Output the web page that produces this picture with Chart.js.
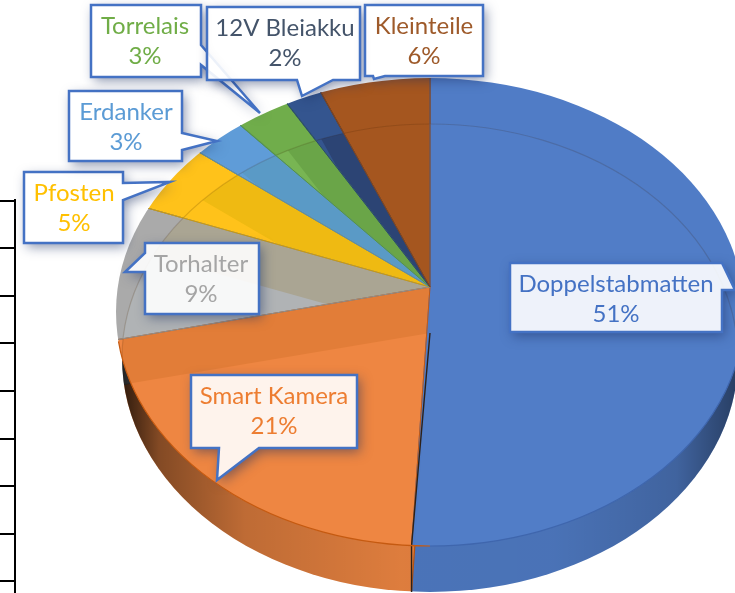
<!DOCTYPE html>
<html>
<head>
<meta charset="utf-8">
<style>
  html, body { margin: 0; padding: 0; background: #fff; overflow: hidden; }
  canvas { display: block; }
</style>
<script src="https://cdn.jsdelivr.net/npm/chart.js@4/dist/chart.umd.min.js"></script>
</head>
<body>
<canvas id="pieChart" width="735" height="593"></canvas>
<script>
const categories = ['Doppelstabmatten', 'Smart Kamera', 'Torhalter', 'Pfosten', 'Erdanker', 'Torrelais', '12V Bleiakku', 'Kleinteile'];
const shares = [51, 21, 9, 5, 3, 3, 2, 6];
const sliceColors = ['#507cc6', '#ee8642', '#aaaaaa', '#ffc21a', '#5f9cd8', '#70ad4b', '#34558f', '#a5561f'];
const bandColors = ['#4f7bc5', '#e27d38', '#aaa593', '#efba12', '#5a9ac6', '#6aa548', '#2c4474', '#a25622'];
const overlapColors = ['#517dc7', '#ee8642', '#b0b3b5', '#ffc21a', '#5f9fd8', '#78b553', '#34558f', '#a5561f'];
const edgeColors = ['#4472c4', '#c55a11', '#8f8f8f', '#c99a10', '#4a8bc4', '#5d9638', '#264478', '#8a4616'];
const textColors = ['#4472c4', '#ed7d31', '#a5a5a5', '#ffc000', '#5b9bd5', '#70ad47', '#44546a', '#9e5a2a'];

// callout outlines and text centres, same order as categories
const calloutShapes = [
  [[510, 263], [722, 263], [735, 290], [722, 290], [722, 332], [510, 332]],
  [[191, 375], [357, 375], [357, 448], [259, 448], [217, 480], [219, 448], [191, 448]],
  [[145, 243], [259, 243], [259, 314], [145, 314], [145, 272], [125, 272], [145, 253]],
  [[24, 172], [123, 172], [123, 183], [170, 182], [123, 200], [123, 243], [24, 243]],
  [[69, 91], [182, 91], [182, 133], [217, 141], [182, 150], [182, 161], [69, 161]],
  [[91, 5], [201, 5], [201, 45], [260, 113], [201, 65], [201, 77], [91, 77]],
  [[207, 7], [360, 7], [360, 80], [333, 80], [302, 96], [297, 80], [207, 80]],
  [[365, 5], [483, 5], [483, 76], [385, 76], [374, 79], [373, 76], [365, 76]]
];
const calloutTextX = [616, 274, 201, 74, 126, 145, 285, 424];

const DEPTH = 46;
const face = { cy: 312, rx: 314, ry: 234 };
const wall = { cy: 312 + DEPTH, rx: 308, ry: 234 };
// spread of the pie around its apex, upper and lower half differ
const spread = { x: 340, up: 240, down: 300 };

function ellipsePath(ctx, cx, shape) {
  ctx.ellipse(cx, shape.cy, shape.rx, shape.ry, 0, 0, Math.PI * 2);
}

function drawPie(ctx, chart, arcs, shape, shift) {
  const cx = arcs[0].x, cy = arcs[0].y, R = arcs[0].outerRadius;
  ctx.save();
  ctx.beginPath();
  ellipsePath(ctx, cx, shape);
  ctx.clip();
  [[spread.up, 0, cy + shift], [spread.down, cy + shift, chart.height + 100]].forEach(([sy, y0, y1]) => {
    ctx.save();
    ctx.beginPath();
    ctx.rect(0, y0, chart.width, y1 - y0);
    ctx.clip();
    ctx.translate(cx, cy + shift);
    ctx.scale(spread.x / R, sy / R);
    ctx.translate(-cx, -cy);
    arcs.forEach(a => a.draw(ctx));
    ctx.restore();
  });
  ctx.restore();
}

function sectorPath(ctx, arc, shift) {
  const apexY = arc.y + shift;
  ctx.beginPath();
  ctx.moveTo(arc.x, apexY);
  const steps = Math.ceil((arc.endAngle - arc.startAngle) / 0.02);
  for (let i = 0; i <= steps; i++) {
    const a = arc.startAngle + (arc.endAngle - arc.startAngle) * i / steps;
    const s = Math.sin(a);
    ctx.lineTo(arc.x + Math.cos(a) * spread.x, apexY + s * (s < 0 ? spread.up : spread.down));
  }
  ctx.closePath();
}

// facets on the top face where the lower copy of the pie shines through
function drawFacets(ctx, arcs) {
  const cx = arcs[0].x;
  arcs.forEach((arc, i) => {
    ctx.save();
    ctx.beginPath();
    ellipsePath(ctx, cx, face);
    ctx.clip();
    sectorPath(ctx, arc, 0);
    ctx.clip();
    ctx.save();
    ctx.beginPath();
    ellipsePath(ctx, cx, wall);
    ctx.clip();
    ctx.fillStyle = bandColors[i];
    ctx.fillRect(0, 0, 735, 593);
    sectorPath(ctx, arc, DEPTH);
    ctx.clip();
    ctx.fillStyle = overlapColors[i];
    ctx.fillRect(0, 0, 735, 593);
    ctx.restore();
    ctx.restore();
  });

  // faint arc of the lower copy on the top face
  ctx.save();
  ctx.beginPath();
  ellipsePath(ctx, cx, face);
  ctx.clip();
  ctx.strokeStyle = 'rgba(60,30,0,0.16)';
  ctx.lineWidth = 1.2;
  ctx.beginPath();
  ctx.ellipse(cx, wall.cy, wall.rx, wall.ry, 0, Math.PI, Math.PI * 2);
  ctx.stroke();
  ctx.restore();

  arcs.forEach((arc, i) => {
    ctx.save();
    ctx.beginPath();
    ellipsePath(ctx, cx, face);
    ctx.clip();
    sectorPath(ctx, arc, 0);
    ctx.strokeStyle = edgeColors[i];
    ctx.lineWidth = 1;
    ctx.stroke();
    ctx.restore();
  });
}

function shadeWall(ctx, chart, cx) {
  ctx.save();
  ctx.beginPath();
  ctx.rect(0, 0, chart.width, chart.height);
  ellipsePath(ctx, cx, face);
  ctx.clip('evenodd');
  ctx.beginPath();
  ellipsePath(ctx, cx, wall);
  ctx.clip();
  const g = ctx.createLinearGradient(cx - wall.rx, 0, cx + wall.rx, 0);
  g.addColorStop(0, 'rgba(0,0,0,0.8)');
  g.addColorStop(0.06, 'rgba(0,0,0,0.45)');
  g.addColorStop(0.2, 'rgba(0,0,0,0.2)');
  g.addColorStop(0.45, 'rgba(0,0,0,0.07)');
  g.addColorStop(0.7, 'rgba(0,0,0,0.08)');
  g.addColorStop(0.9, 'rgba(0,0,0,0.2)');
  g.addColorStop(1, 'rgba(0,0,0,0.5)');
  ctx.fillStyle = g;
  ctx.fillRect(0, 0, chart.width, chart.height);
  ctx.restore();
}

function drawSeam(ctx, arcs) {
  const a = arcs[0], cx = a.x, cy = a.y;
  const k = Math.cos(a.endAngle) / Math.sin(a.endAngle);
  const edgeY = face.cy + face.ry;
  const edgeX = cx + (edgeY - cy) * (spread.x / spread.down) * k;
  ctx.save();
  ctx.strokeStyle = '#2e2118';
  ctx.lineWidth = 1.4;
  ctx.beginPath();
  ctx.moveTo(cx, cy + DEPTH);
  ctx.lineTo(edgeX, edgeY);
  ctx.lineTo(edgeX, edgeY + DEPTH);
  ctx.stroke();
  ctx.restore();
}

function drawRim(ctx, cx) {
  // lower rim of the top face
  ctx.save();
  ctx.lineWidth = 1.2;
  [['#c55a11', Math.PI / 2, Math.PI * 0.96], ['#3f66ad', Math.PI * 0.03, Math.PI / 2]].forEach(([c, s, e]) => {
    ctx.strokeStyle = c;
    ctx.beginPath();
    ctx.ellipse(cx, face.cy, face.rx, face.ry, 0, s, e);
    ctx.stroke();
  });
  ctx.restore();
}

function drawCallout(ctx, pts, label, share, color, textX) {
  const trace = () => {
    pts.forEach(([x, y], i) => (i ? ctx.lineTo(x, y) : ctx.moveTo(x, y)));
    ctx.closePath();
  };
  // shadow only outside the box, the fill is see-through
  ctx.save();
  ctx.beginPath();
  ctx.rect(0, 0, 735, 593);
  trace();
  ctx.clip('evenodd');
  ctx.shadowColor = 'rgba(25,45,95,0.5)';
  ctx.shadowBlur = 12;
  ctx.shadowOffsetX = 3;
  ctx.shadowOffsetY = 4;
  ctx.fillStyle = '#fff';
  ctx.beginPath();
  trace();
  ctx.fill();
  ctx.restore();

  ctx.save();
  ctx.fillStyle = 'rgba(255,255,255,0.9)';
  ctx.beginPath();
  trace();
  ctx.fill();
  ctx.strokeStyle = '#4472c4';
  ctx.lineWidth = 2.5;
  ctx.stroke();

  const top = pts[0][1];
  ctx.fillStyle = color;
  ctx.font = '24px Lato';
  ctx.textAlign = 'center';
  ctx.textBaseline = 'middle';
  ctx.fillText(label, textX, top + 21);
  ctx.fillText(share + '%', textX, top + 51);
  ctx.restore();
}

const pie3d = {
  id: 'pie3d',
  beforeDatasetsDraw(chart) {
    const ctx = chart.ctx;
    const arcs = chart.getDatasetMeta(0).data;
    const cx = arcs[0].x;
    drawPie(ctx, chart, arcs, wall, DEPTH);
    shadeWall(ctx, chart, cx);
    drawPie(ctx, chart, arcs, face, 0);
    drawFacets(ctx, arcs);
    drawSeam(ctx, arcs);
    drawRim(ctx, cx);
    return false;
  },
  afterDraw(chart) {
    const ctx = chart.ctx;
    // table edge left of the chart
    ctx.save();
    ctx.strokeStyle = '#000';
    ctx.lineWidth = 2;
    ctx.beginPath();
    for (let i = 0; i < 9; i++) {
      const y = Math.round(200.5 + i * 47.6);
      ctx.moveTo(0, y);
      ctx.lineTo(16, y);
    }
    ctx.moveTo(15, 199);
    ctx.lineTo(15, 593);
    ctx.stroke();
    ctx.restore();

    categories.forEach((name, i) => {
      drawCallout(ctx, calloutShapes[i], name, shares[i], textColors[i], calloutTextX[i]);
    });
  }
};

new Chart(document.getElementById('pieChart').getContext('2d'), {
  type: 'pie',
  data: {
    labels: categories,
    datasets: [{
      data: shares,
      backgroundColor: sliceColors,
      borderColor: edgeColors,
      borderWidth: 1
    }]
  },
  options: {
    responsive: false,
    animation: false,
    layout: { padding: { left: 125, bottom: 19 } },
    plugins: {
      legend: { display: false },
      tooltip: { enabled: false }
    }
  },
  plugins: [pie3d]
});
</script>
</body>
</html>
